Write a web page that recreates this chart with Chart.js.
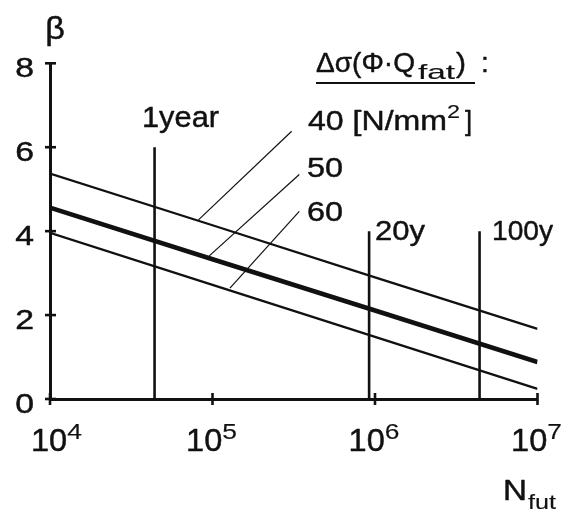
<!DOCTYPE html>
<html>
<head>
<meta charset="utf-8">
<script src="https://cdn.jsdelivr.net/npm/chart.js@4/dist/chart.umd.min.js"></script>
<style>
  html, body { margin: 0; padding: 0; background: #fff; }
  #wrap { width: 564px; height: 511px; }
</style>
</head>
<body>
<div id="wrap"><canvas id="c" width="564" height="511"></canvas></div>
<script>
// ---- data ----
const cycles = [1e4, 1e5, 1e6, 1e7];               // N_fut
const beta40 = [5.37, 4.14, 2.90, 1.67];           // Δσ = 40 N/mm²
const beta50 = [4.56, 3.33, 2.11, 0.88];           // Δσ = 50 (thick)
const beta60 = [3.96, 2.72, 1.48, 0.24];           // Δσ = 60
const markerCycles = [4.4e4, 9.2e5, 4.4e6];        // 1 year, 20 years, 100 years
const markerTops = [6, 4, 4];
const markerLabels = ['1year', '20y', '100y'];
const leaderFromN = [8.2e4, 9.55e4, 1.28e5];
const leaderFromBeta = [4.27, 3.41, 2.64];
const leaderToN = [3.07e5, 3.42e5, 3.42e5];
const leaderToBeta = [6.38, 5.35, 4.47];
const seriesLabels = ['40', '50', '60'];
const yTicks = [0, 2, 4, 6, 8];
const xTickExponents = [4, 5, 6, 7];

const FONT = '"Liberation Sans", Arial, Helvetica, sans-serif';
const INK = '#111';

function pts(xs, ys) { return xs.map((x, i) => ({ x: x, y: ys[i] })); }

const datasets = [];
datasets.push({ label: '40', data: pts(cycles, beta40), borderColor: INK, borderWidth: 2.3 });
datasets.push({ label: '50', data: pts(cycles, beta50), borderColor: INK, borderWidth: 4.6 });
datasets.push({ label: '60', data: pts(cycles, beta60), borderColor: INK, borderWidth: 2.3 });
markerCycles.forEach((n, i) => {
  datasets.push({ label: markerLabels[i], data: [{ x: n, y: 0 }, { x: n, y: markerTops[i] }],
    borderColor: INK, borderWidth: 2.6 });
});
leaderFromN.forEach((n, i) => {
  datasets.push({ label: 'leader' + i, data: [{ x: n, y: leaderFromBeta[i] }, { x: leaderToN[i], y: leaderToBeta[i] }],
    borderColor: INK, borderWidth: 1.2 });
});

function txt(ctx, s, x, y, size, opts) {
  opts = opts || {};
  ctx.save();
  ctx.font = size + 'px ' + FONT;
  ctx.fillStyle = INK;
  ctx.strokeStyle = INK;
  ctx.lineWidth = size > 24 ? 0.45 : 0.15;
  ctx.lineJoin = 'round';
  ctx.textBaseline = 'alphabetic';
  ctx.textAlign = 'left';
  const w = ctx.measureText(s).width;
  const sx = opts.width ? opts.width / w : (opts.sx || 1);
  const tw = w * sx;
  let left = x;
  if (opts.align === 'right') left = x - tw;
  else if (opts.align === 'center') left = x - tw / 2;
  ctx.translate(left, y);
  ctx.scale(sx, 1);
  ctx.fillText(s, 0, 0);
  ctx.strokeText(s, 0, 0);
  ctx.restore();
  return left + tw;
}

const decor = {
  id: 'decor',
  afterDraw(chart) {
    const ctx = chart.ctx;
    const xs = chart.scales.x, ys = chart.scales.y;
    const x0 = xs.getPixelForValue(cycles[0]);
    const yb = ys.getPixelForValue(0);
    ctx.save();
    ctx.strokeStyle = INK;
    ctx.lineWidth = 2.6;
    // tick marks crossing the axes
    yTicks.forEach(v => {
      const p = ys.getPixelForValue(v);
      ctx.beginPath(); ctx.moveTo(x0 - 5, p); ctx.lineTo(x0 + 6, p); ctx.stroke();
    });
    xTickExponents.forEach(e => {
      const p = xs.getPixelForValue(Math.pow(10, e));
      ctx.beginPath(); ctx.moveTo(p, yb - 6); ctx.lineTo(p, yb + 6); ctx.stroke();
    });
    ctx.restore();

    // y tick labels
    yTicks.forEach(v => {
      const p = ys.getPixelForValue(v);
      txt(ctx, String(v), 34, p + 14, 27, { sx: 1.25, align: 'right' });
    });
    // y axis title
    txt(ctx, 'β', 55, 39, 31, { align: 'center', sx: 1.1 });

    // x tick labels 10^n
    xTickExponents.forEach((e, i) => {
      const p = xs.getPixelForValue(Math.pow(10, e));
      ctx.save();
      ctx.font = '31px ' + FONT;
      const wMain = ctx.measureText('10').width * 1.05;
      ctx.font = '22px ' + FONT;
      const wSup = ctx.measureText(String(e)).width * 1.2;
      ctx.restore();
      const total = wMain + wSup;
      let left = (i === 0) ? 31 : p - 1 - total / 2;
      const r = txt(ctx, '10', left, 451, 31, { sx: 1.05 });
      txt(ctx, String(e), r, 439, 22, { sx: 1.2 });
    });
    // x axis title N_fut
    let r = txt(ctx, 'N', 503, 500, 29, { width: 24 });
    txt(ctx, 'fut', r + 1, 509, 21, { width: 28 });

    // legend heading Δσ(Φ·Q_fat) :
    r = txt(ctx, 'Δσ(Φ·Q', 316, 72, 28, { width: 99 });
    r = txt(ctx, 'fat', r + 3, 79, 21, { width: 37 });
    txt(ctx, ')', r + 1, 72, 28, { width: 10 });
    txt(ctx, ':', 481, 72, 28, {});
    ctx.save();
    ctx.strokeStyle = INK; ctx.lineWidth = 2.2;
    ctx.beginPath(); ctx.moveTo(316, 83); ctx.lineTo(475, 83); ctx.stroke();
    ctx.restore();

    // series labels
    r = txt(ctx, seriesLabels[0] + ' [N/mm', 308, 130, 27, { width: 139 });
    r = txt(ctx, '2', r, 118, 18, { width: 13 });
    txt(ctx, ' ]', r - 2, 130, 27, { width: 14 });
    txt(ctx, seriesLabels[1], 307, 177, 28, { width: 36 });
    txt(ctx, seriesLabels[2], 307, 221, 28, { width: 36 });

    // marker labels
    txt(ctx, markerLabels[0], 142, 127, 30, { width: 77 });
    txt(ctx, markerLabels[1], 375, 240, 28, { width: 50 });
    txt(ctx, markerLabels[2], 492, 240, 28, { width: 61 });
  }
};

new Chart(document.getElementById('c'), {
  type: 'line',
  data: { datasets: datasets },
  options: {
    responsive: false,
    animation: false,
    devicePixelRatio: 1,
    layout: { padding: { left: 50, right: 26.5, top: 63.3, bottom: 112 } },
    elements: { point: { radius: 0, hoverRadius: 0 }, line: { tension: 0, borderCapStyle: 'butt', fill: false } },
    plugins: { legend: { display: false }, tooltip: { enabled: false }, title: { display: false } },
    scales: {
      x: {
        type: 'logarithmic', min: 1e4, max: 1e7,
        grid: { display: false, drawTicks: false },
        border: { display: true, color: INK, width: 3 },
        ticks: { display: false },
        afterFit(s) { s.height = 0; }
      },
      y: {
        type: 'linear', min: 0, max: 8,
        grid: { display: false, drawTicks: false },
        border: { display: true, color: INK, width: 3 },
        ticks: { display: false },
        afterFit(s) { s.width = 0; }
      }
    }
  },
  plugins: [decor]
});
</script>
</body>
</html>
